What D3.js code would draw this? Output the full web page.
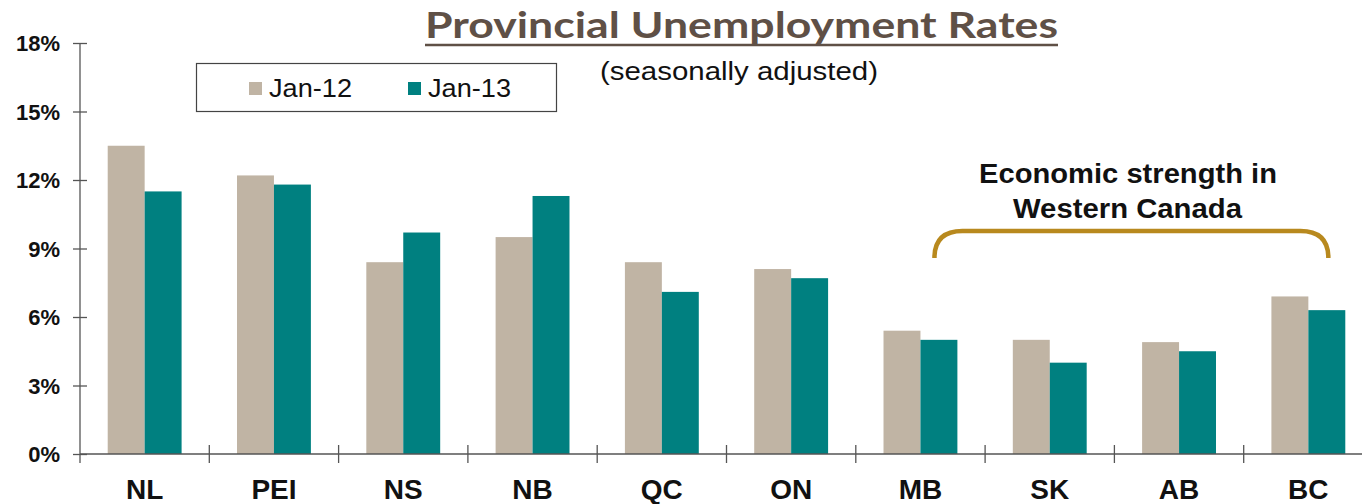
<!DOCTYPE html>
<html>
<head>
<meta charset="utf-8">
<script src="https://cdn.jsdelivr.net/npm/d3@7"></script>
<style>
  body { margin: 0; background: #fff; }
  #chart { width: 1362px; height: 504px; }
</style>
</head>
<body>
<div id="chart"></div>
<script>
const provinces = ["NL", "PEI", "NS", "NB", "QC", "ON", "MB", "SK", "AB", "BC"];
const seriesNames = ["Jan-12", "Jan-13"];
const jan12 = [13.5, 12.2, 8.4, 9.5, 8.4, 8.1, 5.4, 5.0, 4.9, 6.9];
const jan13 = [11.5, 11.8, 9.7, 11.3, 7.1, 7.7, 5.0, 4.0, 4.5, 6.3];
const yTicks = [0, 3, 6, 9, 12, 15, 18];
const bracketFrom = "MB";
const bracketTo = "BC";

const beige = "#c0b4a4";
const teal = "#008080";
const gold = "#b8891e";
const titleBrown = "#5f5046";
const axisGray = "#555";

const width = 1362;
const height = 504;

const svg = d3.select("#chart")
  .append("svg")
  .attr("width", width)
  .attr("height", height)
  .style("font-family", "Arial, 'Liberation Sans', sans-serif");

const x = d3.scaleBand()
  .domain(provinces)
  .range([80, 80 + 129.3 * provinces.length]);

const xInner = d3.scaleBand()
  .domain(seriesNames)
  .range([0, x.bandwidth()])
  .paddingInner(0)
  .paddingOuter(0.75);

const y = d3.scaleLinear()
  .domain([0, 18])
  .range([454, 43]);

const color = d3.scaleOrdinal().domain(seriesNames).range([beige, teal]);

const rows = provinces.map((p, i) => ({
  province: p,
  values: [
    { name: seriesNames[0], value: jan12[i] },
    { name: seriesNames[1], value: jan13[i] }
  ]
}));

// bars
const groups = svg.append("g")
  .selectAll("g")
  .data(rows)
  .enter()
  .append("g")
  .attr("transform", (d) => `translate(${x(d.province)},0)`);

groups.selectAll("rect")
  .data((d) => d.values)
  .enter()
  .append("rect")
  .attr("x", (d) => xInner(d.name))
  .attr("width", xInner.bandwidth())
  .attr("y", (d) => y(d.value))
  .attr("height", (d) => y(0) - y(d.value))
  .attr("fill", (d) => color(d.name));

// y axis
const yAxis = svg.append("g")
  .attr("transform", "translate(80,0)")
  .call(d3.axisLeft(y).tickValues(yTicks).tickFormat((d) => d + "%").tickSizeInner(7).tickSizeOuter(0));
yAxis.select(".domain").remove();
yAxis.append("line")
  .attr("x1", 0).attr("x2", 0)
  .attr("y1", y(18)).attr("y2", y(0) + 9)
  .attr("stroke", axisGray).attr("stroke-width", 1.3);
yAxis.selectAll(".tick line")
  .attr("x1", -7).attr("x2", 7)
  .attr("stroke", axisGray).attr("stroke-width", 1.3);
yAxis.selectAll(".tick text")
  .attr("x", -20)
  .attr("dy", "0.35em")
  .style("font-size", "22px")
  .style("font-weight", "bold")
  .attr("fill", "#111");

// x axis
const xAxis = svg.append("g")
  .attr("transform", `translate(0,${y(0)})`);
xAxis.append("line")
  .attr("x1", 80).attr("x2", width)
  .attr("stroke", axisGray).attr("stroke-width", 1.3);
xAxis.selectAll("line.sep")
  .data(provinces.slice(1))
  .enter()
  .append("line")
  .attr("class", "sep")
  .attr("x1", (d) => x(d)).attr("x2", (d) => x(d))
  .attr("y1", -9).attr("y2", 9)
  .attr("stroke", axisGray).attr("stroke-width", 1.3);
xAxis.selectAll("text")
  .data(provinces)
  .enter()
  .append("text")
  .attr("x", (d) => x(d) + x.bandwidth() / 2)
  .attr("y", 45)
  .attr("text-anchor", "middle")
  .style("font-size", "28px")
  .style("font-weight", "bold")
  .attr("fill", "#111")
  .text((d) => d);

// title
svg.append("text")
  .attr("x", 425)
  .attr("y", 38)
  .attr("textLength", 633)
  .attr("lengthAdjust", "spacingAndGlyphs")
  .style("font-family", "Lato, 'Open Sans', sans-serif")
  .style("font-size", "37px")
  .style("font-weight", "bold")
  .attr("fill", titleBrown)
  .text("Provincial Unemployment Rates");
svg.append("line")
  .attr("x1", 425).attr("x2", 1058)
  .attr("y1", 45).attr("y2", 45)
  .attr("stroke", titleBrown).attr("stroke-width", 2.5);

svg.append("text")
  .attr("x", 600)
  .attr("y", 80)
  .attr("textLength", 278)
  .attr("lengthAdjust", "spacingAndGlyphs")
  .style("font-size", "26px")
  .attr("fill", "#111")
  .text("(seasonally adjusted)");

// legend
const legend = svg.append("g");
legend.append("rect")
  .attr("x", 196.5).attr("y", 63.5)
  .attr("width", 360).attr("height", 48)
  .attr("fill", "#fff")
  .attr("stroke", "#444").attr("stroke-width", 1.2);
const legendX = [249, 408];
const items = legend.selectAll("g.item")
  .data(seriesNames)
  .enter()
  .append("g")
  .attr("class", "item")
  .attr("transform", (d, i) => `translate(${legendX[i]},0)`);
items.append("rect")
  .attr("x", 0).attr("y", 82)
  .attr("width", 13).attr("height", 13)
  .attr("fill", (d) => color(d));
items.append("text")
  .attr("x", 20).attr("y", 97)
  .attr("textLength", 83)
  .attr("lengthAdjust", "spacingAndGlyphs")
  .style("font-size", "26px")
  .attr("fill", "#111")
  .text((d) => d);

// annotation bracket over the western provinces
const bx0 = x(bracketFrom) + x.bandwidth() / 2 + 14;
const bx1 = x(bracketTo) + x.bandwidth() / 2 + 20;
const byTop = 231;
const byEnd = 258;
const r = 28;
svg.append("path")
  .attr("d", `M${bx0},${byEnd} Q${bx0},${byTop} ${bx0 + r},${byTop} L${bx1 - r},${byTop} Q${bx1},${byTop} ${bx1},${byEnd}`)
  .attr("fill", "none")
  .attr("stroke", gold)
  .attr("stroke-width", 4.5);

const note = svg.append("g")
  .style("font-size", "27px")
  .style("font-weight", "bold")
  .attr("fill", "#111");
note.append("text").attr("x", 979).attr("y", 183)
  .attr("textLength", 298).attr("lengthAdjust", "spacingAndGlyphs")
  .text("Economic strength in");
note.append("text").attr("x", 1013).attr("y", 218)
  .attr("textLength", 229).attr("lengthAdjust", "spacingAndGlyphs")
  .text("Western Canada");
</script>
</body>
</html>
